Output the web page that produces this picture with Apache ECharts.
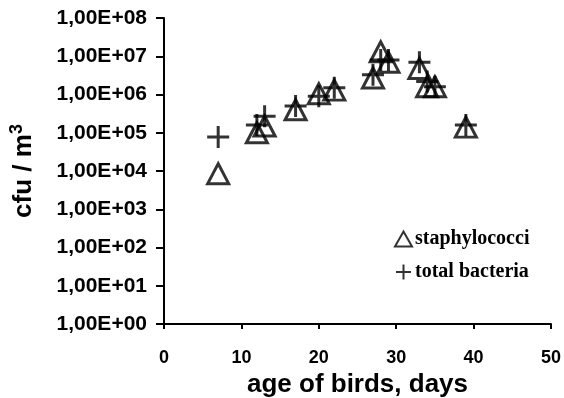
<!DOCTYPE html>
<html>
<head>
<meta charset="utf-8">
<script src="https://cdn.jsdelivr.net/npm/echarts@6/dist/echarts.min.js"></script>
<style>
  html, body { margin: 0; padding: 0; background: #fff; }
  #chart { width: 564px; height: 398px; }
</style>
</head>
<body>
<div id="chart"></div>
<script>
// age of birds (days) and counts
const staphDays = [7, 12, 13, 17, 20, 22, 27, 28, 29, 33, 34, 35, 39]
const staphCfu = [8.5e3, 1.0e5, 1.5e5, 4.0e5, 1.05e6, 1.3e6, 2.7e6, 1.3e7, 7.0e6, 4.8e6, 1.6e6, 1.6e6, 1.4e5]
const totalDays = [7, 12, 13, 17, 20, 22, 27, 28, 29, 33, 34, 35, 39]
const totalCfu = [7.8e4, 1.6e5, 2.7e5, 5.0e5, 9.0e5, 1.5e6, 3.3e6, 8.0e6, 8.0e6, 7.0e6, 2.2e6, 1.6e6, 1.6e5]
const seriesNames = ['staphylococci', 'total bacteria']

const plusPath = 'path://M0,10L20,10M10,0L10,20'
const sans = 'Liberation Sans, Arial, sans-serif'

const chart = echarts.init(document.getElementById('chart'))

function pairs(xs, ys) {
  return xs.map((x, i) => [x, ys[i]])
}

const option = {
  animation: false,
  backgroundColor: '#fff',
  grid: { left: 164, right: 13, top: 18, bottom: 74, outerBoundsMode: 'none', containLabel: false },
  legend: {
    orient: 'vertical',
    left: 389,
    top: 224,
    itemGap: 13,
    itemWidth: 17,
    itemHeight: 15,
    data: seriesNames,
    textStyle: {
      fontFamily: 'Liberation Serif, Times New Roman, serif',
      fontWeight: 'bold',
      fontSize: 20,
      color: '#000',
      padding: [0, 0, 0, -2]
    }
  },
  xAxis: {
    type: 'value',
    min: 0,
    max: 50,
    interval: 10,
    name: 'age of birds, days',
    nameLocation: 'middle',
    nameGap: 46,
    nameTextStyle: { fontFamily: sans, fontWeight: 'bold', fontSize: 26, color: '#000' },
    axisLine: { lineStyle: { color: '#000', width: 2 } },
    axisTick: { length: 5, lineStyle: { color: '#000', width: 2 } },
    axisLabel: { fontFamily: sans, fontWeight: 'bold', fontSize: 18, color: '#000', margin: 25 },
    splitLine: { show: false }
  },
  yAxis: {
    type: 'log',
    logBase: 10,
    min: 1,
    max: 1e8,
    name: 'cfu / m{sup|3}',
    nameLocation: 'middle',
    nameGap: 124,
    nameRotate: 90,
    nameTextStyle: {
      fontFamily: sans, fontWeight: 'bold', fontSize: 26, color: '#000',
      rich: {
        sup: { fontFamily: sans, fontWeight: 'bold', fontSize: 18, color: '#000', verticalAlign: 'top', padding: [0, 0, 14, 0] }
      }
    },
    axisLine: { show: true, lineStyle: { color: '#000', width: 2 } },
    axisTick: { show: true, length: 8, lineStyle: { color: '#000', width: 2 } },
    axisLabel: {
      fontFamily: sans, fontWeight: 'bold', fontSize: 21, color: '#000', margin: 17,
      formatter: v => '1,00E+' + String(Math.round(Math.log10(v))).padStart(2, '0')
    },
    splitLine: { show: false }
  },
  series: [
    {
      name: seriesNames[0],
      type: 'scatter',
      symbol: 'triangle',
      symbolSize: [21, 20],
      itemStyle: { color: 'rgba(0,0,0,0)', borderColor: '#000', borderWidth: 3 },
      data: pairs(staphDays, staphCfu)
    },
    {
      name: seriesNames[1],
      type: 'scatter',
      symbol: plusPath,
      symbolSize: 22,
      itemStyle: { color: 'rgba(0,0,0,0)', borderColor: '#000', borderWidth: 3 },
      data: pairs(totalDays, totalCfu)
    }
  ]
}

chart.setOption(option)
</script>
</body>
</html>
